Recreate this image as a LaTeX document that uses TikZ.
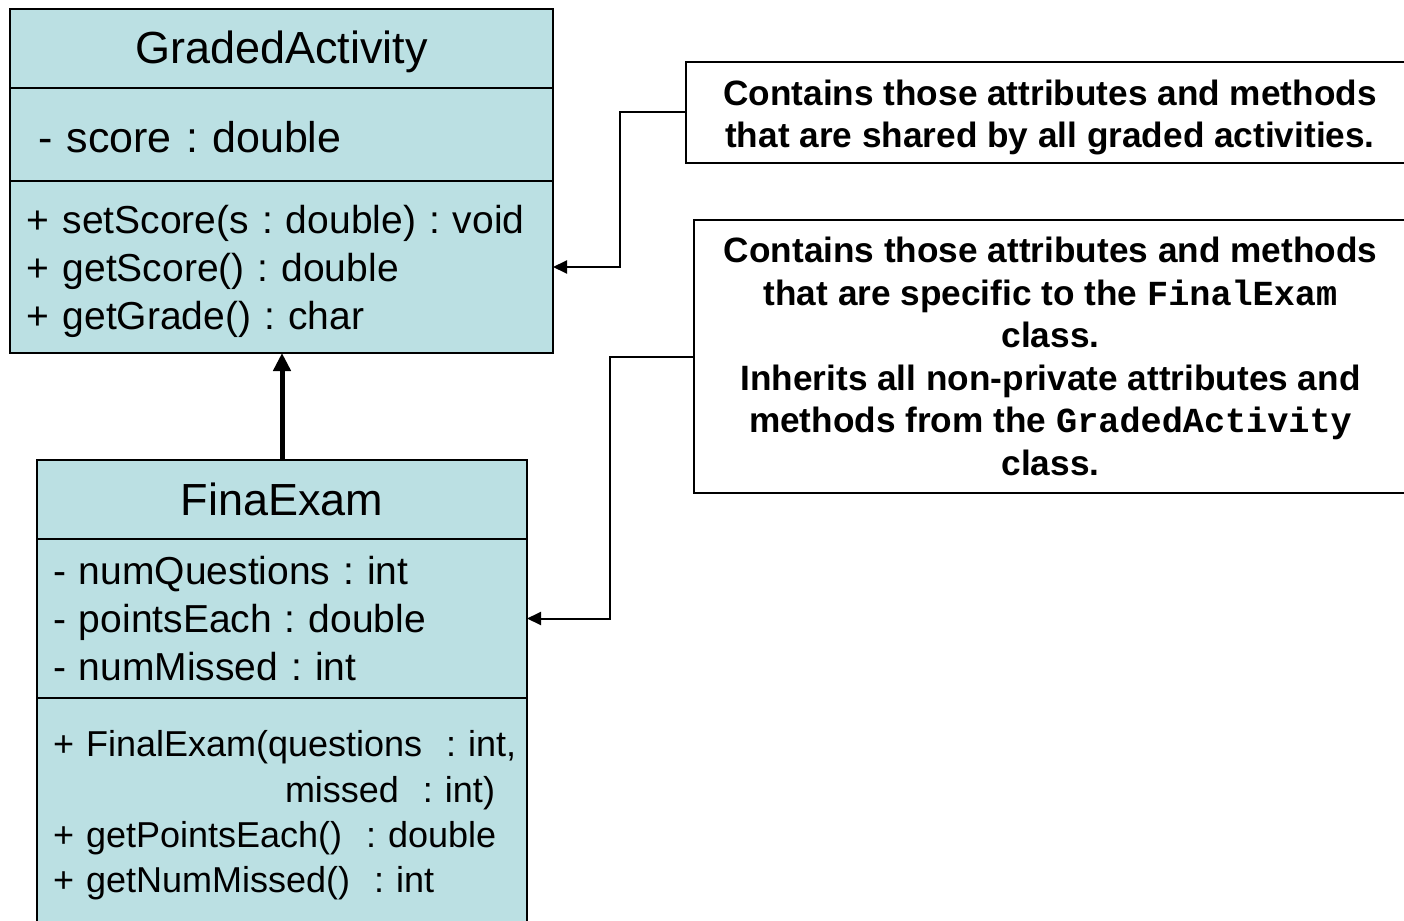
\documentclass[tikz,border=0pt]{standalone}
\usepackage{fontspec}
\setmainfont{Liberation Sans}
\newfontfamily\codefont{Liberation Mono}
\usetikzlibrary{positioning, arrows.meta}
\frenchspacing
\definecolor{classblue}{RGB}{187,224,227}
\tikzstyle{arrow} = [line width=2pt,-{Triangle[length=14pt,width=13pt]}]
\tikzstyle{inherit} = [line width=5pt,-{Triangle[length=18pt,width=17pt]}]
\tikzstyle{compartment} = [rectangle, draw=black, line width=2pt, fill=classblue, outer sep=0pt, inner ysep=0pt]
\tikzstyle{classname} = [compartment, minimum height=79pt, text height=31pt, text depth=0pt, font=\fontsize{45}{54}\selectfont]
\tikzstyle{members} = [compartment, align=left]
\tikzstyle{note} = [rectangle, draw=black, line width=2pt, fill=white, outer sep=0pt, inner sep=4pt, align=center, font=\fontsize{35.2}{42.5}\selectfont\bfseries]
\newcommand\code[1]{{\codefont\bfseries #1}}
\begin{document}
\begin{tikzpicture}[x=1pt, y=-1pt]
\useasboundingbox (0,0) rectangle (1404,920);
% Placement of nodes
\node (gaTitle) [classname, minimum width=543pt, anchor=north west] at (10,9) {GradedActivity};
\node (gaAttr) [members, below=0pt of gaTitle, minimum height=93pt, inner xsep=28pt, text width=487pt, font=\fontsize{43}{52}\selectfont] {\rule{0pt}{37pt}- score : double};
\node (gaOps) [members, below=0pt of gaAttr, minimum height=172pt, inner xsep=17pt, text width=509pt, font=\fontsize{39}{48}\selectfont] {\rule{0pt}{37pt}+~setScore(s~:~double)~:~void\\+ getScore() : double\\+ getGrade() : char};

\node (feTitle) [classname, minimum width=490pt, anchor=north west] at (37,460) {FinaExam};
\node (feAttr) [members, below=0pt of feTitle, minimum height=159pt, inner xsep=16pt, text width=458pt, font=\fontsize{39}{48}\selectfont] {- numQuestions : int\\- pointsEach : double\\- numMissed : int};
\node (feOps) [members, below=0pt of feAttr, minimum height=228pt, inner xsep=16pt, text width=458pt, font=\fontsize{36}{45.3}\selectfont] {\rule{0pt}{33pt}\mbox{+ FinalExam(questions\ \ : int,}\\\mbox{\hspace*{232pt}missed\ \ : int)}\\\mbox{+ getPointsEach()\ \ : double}\\\mbox{+ getNumMissed()\ \ : int}};

%Note nodes
\node (note1) [note, minimum width=728pt, minimum height=101pt, anchor=north west] at (686,62) {\rule{0pt}{35pt}Contains those attributes and methods\\that are shared by all graded activities.};
\node (note2) [note, minimum width=713pt, minimum height=273pt, anchor=north west] at (694,220) {Contains those attributes and methods\\that are specific to the \code{FinalExam}\\class.\\Inherits all non-private attributes and\\methods from the \code{GradedActivity}\\class.};

% Placement of edges
\draw [inherit] (feTitle.north) -- (feTitle.north |- gaOps.south);
\draw [arrow] (note1.west) -- ++(-66,0) |- (gaOps.east);
\draw [arrow] (note2.west) -- ++(-84,0) |- (feAttr.east);
\end{tikzpicture}
\end{document}
